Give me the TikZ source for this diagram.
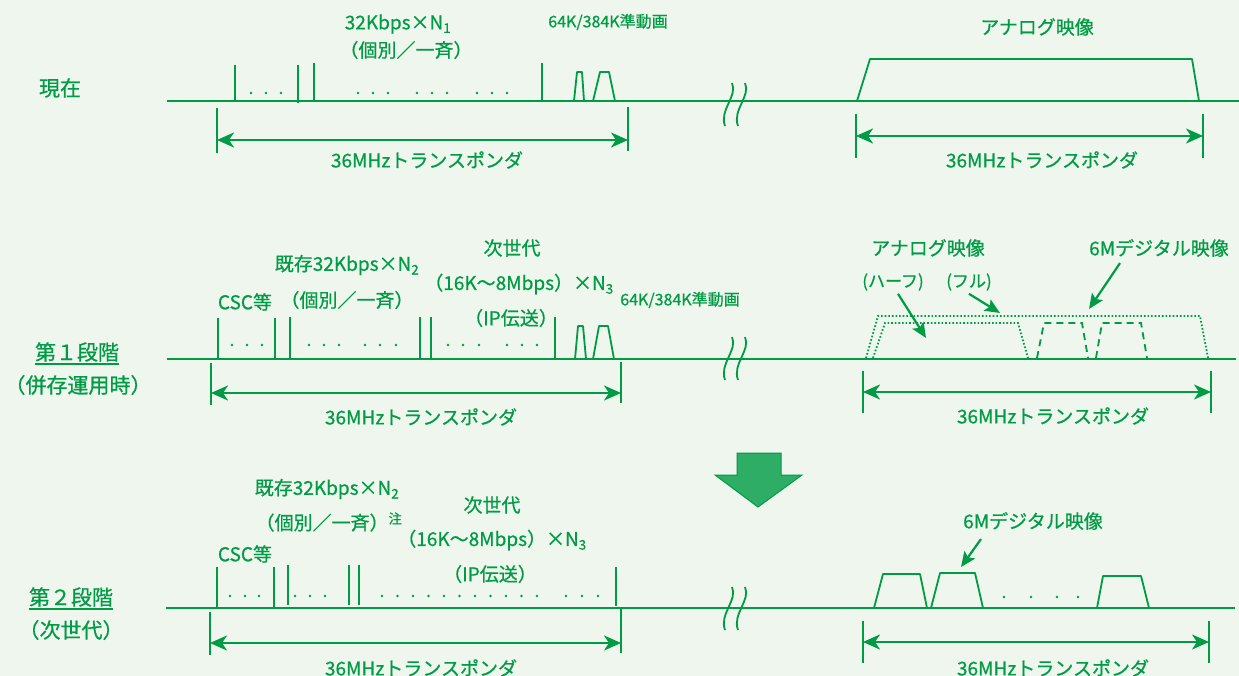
\documentclass[tikz,border=0pt]{standalone}
\usepackage{fontspec}
\setmainfont{Noto Sans CJK JP}[FakeBold=0.6]
\usetikzlibrary{arrows.meta}
\definecolor{bg}{RGB}{238,246,238}
\definecolor{gr}{RGB}{0,155,68}
\tikzset{
  baseln/.style={gr, line width=2pt},
  tk/.style={gr, line width=2pt},
  dimln/.style={gr, line width=2.4pt, {Stealth[length=17pt,width=15pt,inset=5pt]}-{Stealth[length=17pt,width=15pt,inset=5pt]}},
  ptr/.style={gr, line width=2.2pt, -{Stealth[length=15pt,width=13pt,inset=3pt]}},
  sig/.style={gr, line width=1.8pt, line join=round},
  dotsig/.style={gr, line width=1.8pt, dash pattern=on 1.6pt off 2pt},
  dashsig/.style={gr, line width=1.8pt, dash pattern=on 7pt off 5pt},
  lbl/.style={text=gr, inner sep=0pt, font=\fontsize{19}{22}\selectfont},
  lbs/.style={text=gr, inner sep=0pt, font=\fontsize{17}{20}\selectfont},
  sml/.style={text=gr, inner sep=0pt, font=\fontsize{16}{19}\selectfont},
  big/.style={text=gr, inner sep=0pt, font=\fontsize{21}{24}\selectfont},
  brk/.style={gr, line width=1.8pt},
}
\newcommand{\brkmark}[2]{% x,y top
  \draw[brk] (#1,#2) .. controls ++(6,13) and ++(-6,-16) .. ++(-7,43);
  \draw[brk] (#1+13,#2) .. controls ++(6,13) and ++(-6,-16) .. ++(-7,43);
}
\newcommand{\dotrow}[2]{\foreach \xx in {#2} {\fill[gr] (\xx,#1) circle (1.3pt);}}
\begin{document}
\begin{tikzpicture}[x=1pt,y=-1pt]
\fill[bg] (0,0) rectangle (1239,676);
\useasboundingbox (0,0) rectangle (1239,676);

%================ Row 1 =================
\node[big] (now) at (60,88) {現在};
\coordinate (b1s) at (167,101);
\coordinate (b1e) at (1239,101);
\draw[baseln] (b1s) -- (b1e);
\draw[tk] (235,65) -- (235,101);
\draw[tk] (298,65) -- (298,103);
\draw[tk] (314,63) -- (314,101);
\draw[tk] (542,63) -- (542,101);
\dotrow{93}{251,266,281}
\dotrow{93}{358,373,388,417,432,447,477,492,507}
\draw[sig] (574,101) -- (577,72) -- (582,72) -- (584,101);
\draw[sig] (593,101) -- (600,72) -- (609,72) -- (615,101);
\brkmark{732}{83}
\draw[sig] (857,101) -- (870,59) -- (1192,59) -- (1199,101);
\node[lbl] (r1a) at (398,24) {32Kbps×N\textsubscript{1}};
\node[lbl] (r1b) at (406,50) {（個別／一斉）};
\node[sml] (r1c) at (608,22) {64K/384K準動画};
\node[lbl] (r1d) at (1037,27) {アナログ映像};
% dimension
\coordinate (d1lt) at (217,108); \coordinate (d1lb) at (217,153);
\coordinate (d1rt) at (628,107); \coordinate (d1rb) at (628,151);
\draw[tk] (d1lt) -- (d1lb); \draw[tk] (d1rt) -- (d1rb);
\coordinate (a1l) at (217,140); \coordinate (a1r) at (628,140);
\draw[dimln] (a1l) -- (a1r);
\node[lbl] (t1l) at (427,160) {36MHzトランスポンダ};
\coordinate (d1Lt) at (856,114); \coordinate (d1Lb) at (856,158);
\coordinate (d1Rt) at (1203,114); \coordinate (d1Rb) at (1203,158);
\draw[tk] (d1Lt) -- (d1Lb); \draw[tk] (d1Rt) -- (d1Rb);
\coordinate (a1L) at (856,136); \coordinate (a1R) at (1203,136);
\draw[dimln] (a1L) -- (a1R);
\node[lbl] (t1r) at (1042,160) {36MHzトランスポンダ};

%================ Row 2 =================
\node[big] (st1) at (77,352) {第１段階};
\draw[gr, line width=1.2pt] ([yshift=-2pt]st1.south west) -- ([yshift=-2pt]st1.south east);
\node[big] (st1b) at (78,385) {（併存運用時）};
\coordinate (b2s) at (167,359);
\coordinate (b2e) at (1236,359);
\draw[baseln] (b2s) -- (b2e);
\draw[tk] (218,318) -- (218,359);
\draw[tk] (275,318) -- (275,359);
\draw[tk] (290,317) -- (290,359);
\draw[tk] (420,317) -- (420,359);
\draw[tk] (431,317) -- (431,359);
\draw[tk] (555,317) -- (555,359);
\dotrow{345}{232,247,262}
\dotrow{345}{309,324,339,365,380,396}
\dotrow{345}{448,463,479,507,522,537}
\draw[sig] (575,359) -- (578,326) -- (583,326) -- (586,359);
\draw[sig] (593,359) -- (599,326) -- (608,326) -- (614,359);
\brkmark{732}{337}
\draw[dotsig] (866,358) -- (878,316) -- (1200,316) -- (1208,358);
\draw[dotsig] (873,358) -- (885,323) -- (1018,323) -- (1028,358);
\draw[dashsig] (1037,358) -- (1044,323) -- (1082,323) -- (1088,358);
\draw[dashsig] (1096,358) -- (1102,323) -- (1141,323) -- (1147,358);
\node[lbl] (csc1) at (245,302) {CSC等};
\node[lbl] (ex1) at (347,265) {既存32Kbps×N\textsubscript{2}};
\node[lbl] (ex1b) at (347,300) {（個別／一斉）};
\node[lbl] (nx1) at (512,248) {次世代};
\node[lbl] (nx1b) at (519,284) {（16K〜8Mbps）×N\textsubscript{3}};
\node[lbl] (nx1c) at (511,318) {（IP伝送）};
\node[sml] (qv1) at (680,300) {64K/384K準動画};
\node[lbl] (an2) at (928,248) {アナログ映像};
\node[lbl] (dg2) at (1159,248) {6Mデジタル映像};
\node[lbs] (half) at (893,282) {(ハーフ)};
\node[lbs] (full) at (969,282) {(フル)};
\coordinate (halftip) at (926,338);
\coordinate (fulltip) at (1000,313);
\coordinate (dg2tip) at (1089,309);
\draw[ptr] ([xshift=5pt,yshift=-3pt]half.south) -- (halftip);
\draw[ptr] ([xshift=0pt,yshift=-3pt]full.south) -- (fulltip);
\draw[ptr] ([xshift=-39pt,yshift=-6pt]dg2.south) -- (dg2tip);
\coordinate (d2lt) at (211,363); \coordinate (d2lb) at (211,405);
\coordinate (d2rt) at (621,362); \coordinate (d2rb) at (621,403);
\draw[tk] (d2lt) -- (d2lb); \draw[tk] (d2rt) -- (d2rb);
\coordinate (a2l) at (211,393); \coordinate (a2r) at (621,393);
\draw[dimln] (a2l) -- (a2r);
\node[lbl] (t2l) at (421,417) {36MHzトランスポンダ};
\coordinate (d2Lt) at (863,371); \coordinate (d2Lb) at (863,413);
\coordinate (d2Rt) at (1211,371); \coordinate (d2Rb) at (1211,413);
\draw[tk] (d2Lt) -- (d2Lb); \draw[tk] (d2Rt) -- (d2Rb);
\coordinate (a2L) at (863,392); \coordinate (a2R) at (1211,392);
\draw[dimln] (a2L) -- (a2R);
\node[lbl] (t2r) at (1053,416) {36MHzトランスポンダ};

% big arrow
\draw[gr, line width=1pt, fill=gr!82!white] (737,453) -- (781,453) -- (781,475) -- (802,475) -- (758,507) -- (715,475) -- (737,475) -- cycle;

%================ Row 3 =================
\node[big] (st2) at (71,597) {第２段階};
\draw[gr, line width=1.2pt] ([yshift=-2pt]st2.south west) -- ([yshift=-2pt]st2.south east);
\node[big] (st2b) at (71,630) {（次世代）};
\coordinate (b3s) at (166,608);
\coordinate (b3e) at (1235,608);
\draw[baseln] (b3s) -- (b3e);
\draw[tk] (217,567) -- (217,608);
\draw[tk] (274,567) -- (274,608);
\draw[tk] (288,565) -- (288,605);
\draw[tk] (349,565) -- (349,605);
\draw[tk] (359,565) -- (359,605);
\draw[tk] (616,567) -- (616,606);
\dotrow{596}{230,245,259}
\dotrow{596}{295,310,325}
\dotrow{596}{382,397.5,413,428.5,444,459.5,475,490.5,506,521.5,537}
\dotrow{596}{566,582,598}
\brkmark{732}{587}
\draw[sig] (874,608) -- (883,574) -- (920,574) -- (927,608);
\draw[sig] (931,608) -- (940,573) -- (975,573) -- (983,608);
\draw[sig] (1097,608) -- (1103,576) -- (1141,576) -- (1149,608);
\dotrow{597}{1004,1031,1057,1078}
\node[lbl] (csc2) at (245,554) {CSC等};
\node[lbl] (ex2) at (327,489) {既存32Kbps×N\textsubscript{2}};
\node[lbl] (ex2b) at (329,522) {（個別／一斉）\textsuperscript{注}};
\node[lbl] (nx2) at (492,505) {次世代};
\node[lbl] (nx2b) at (492,540) {（16K〜8Mbps）×N\textsubscript{3}};
\node[lbl] (nx2c) at (490,574) {（IP伝送）};
\node[lbl] (dg3) at (1033,521) {6Mデジタル映像};
\coordinate (dg3tip) at (961,567);
\draw[ptr] ([xshift=-52pt,yshift=-9pt]dg3.south) -- (dg3tip);
\coordinate (d3lt) at (210,612); \coordinate (d3lb) at (210,655);
\coordinate (d3rt) at (621,609); \coordinate (d3rb) at (621,653);
\draw[tk] (d3lt) -- (d3lb); \draw[tk] (d3rt) -- (d3rb);
\coordinate (a3l) at (210,643); \coordinate (a3r) at (621,643);
\draw[dimln] (a3l) -- (a3r);
\node[lbl] (t3l) at (421,668) {36MHzトランスポンダ};
\coordinate (d3Lt) at (863,621); \coordinate (d3Lb) at (863,663);
\coordinate (d3Rt) at (1209,621); \coordinate (d3Rb) at (1209,663);
\draw[tk] (d3Lt) -- (d3Lb); \draw[tk] (d3Rt) -- (d3Rb);
\coordinate (a3L) at (863,642); \coordinate (a3R) at (1209,642);
\draw[dimln] (a3L) -- (a3R);
\node[lbl] (t3r) at (1053,668) {36MHzトランスポンダ};
\end{tikzpicture}
\end{document}
